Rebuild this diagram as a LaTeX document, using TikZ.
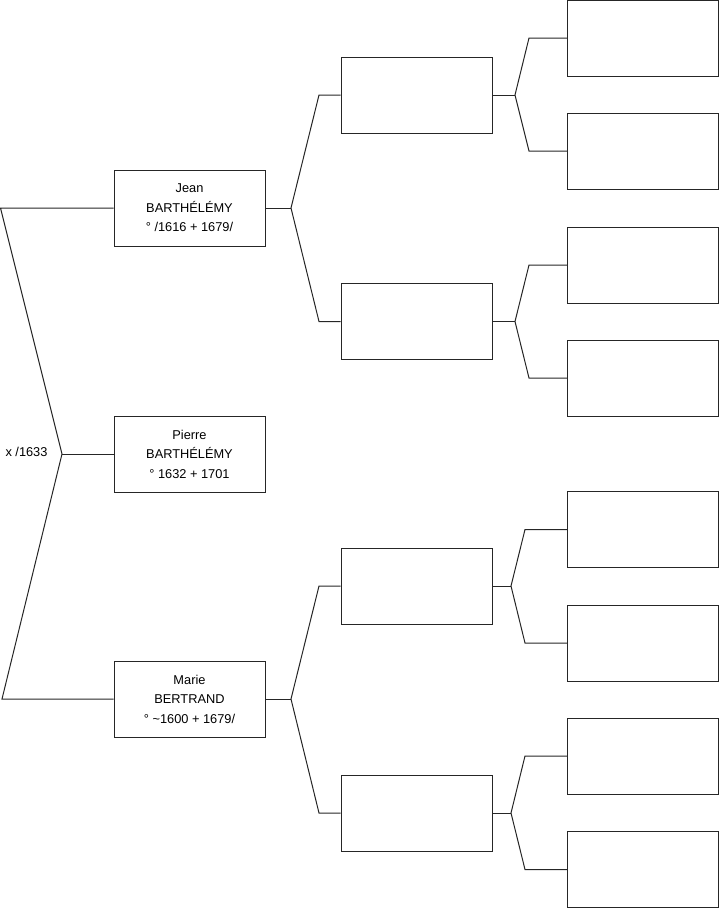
\documentclass[tikz,border=0pt]{standalone}
\usepackage{fontspec}
\setmainfont{Liberation Sans}
\begin{document}
\begin{tikzpicture}[x=1pt,y=-1pt,
  person/.style={draw=black!85, line width=1pt, rectangle, minimum width=151pt, minimum height=76pt,
    inner sep=0pt, align=center, font=\fontsize{12.8pt}{19.5pt}\selectfont},
  link/.style={draw=black!85, line width=1pt}]
\useasboundingbox (0,0) rectangle (719,908);
% generation 1
\node[person] (jean) at (189.5,208) {Jean\\BARTHÉLÉMY\\° /1616 + 1679/};
\node[person] (pierre) at (189.5,454) {Pierre\\BARTHÉLÉMY\\° 1632 + 1701};
\node[person] (marie) at (189.5,699) {Marie\\BERTRAND\\° \textasciitilde1600 + 1679/};
% generation 2
\node[person] (a) at (416.5,95) {};
\node[person] (b) at (416.5,321.5) {};
\node[person] (c) at (416.5,586) {};
\node[person] (d) at (416.5,813) {};
% generation 3
\node[person] (a1) at (643,38) {};
\node[person] (a2) at (643,151) {};
\node[person] (b1) at (643,265) {};
\node[person] (b2) at (643,378) {};
\node[person] (c1) at (643,529.5) {};
\node[person] (c2) at (643,643) {};
\node[person] (d1) at (643,756) {};
\node[person] (d2) at (643,869.5) {};
% marriage connector
\coordinate (lt) at (0.5,208);
\coordinate (lj) at (62,454);
\coordinate (lb) at (2,699);
\draw[link] (jean.west) -- (lt) -- (lj) -- (lb) -- (marie.west);
\draw[link] (lj) -- (pierre.west);
\node[font=\fontsize{12.8pt}{15pt}\selectfont, inner sep=0pt] (mar) at (26.5,452) {x /1633};
% jean parents
\coordinate (jj) at (291,208);
\draw[link] (jean.east) -- (jj);
\draw[link] (a.west) -- (319,95) -- (jj) -- (319,321.5) -- (b.west);
% marie parents
\coordinate (mj) at (291,699);
\draw[link] (marie.east) -- (mj);
\draw[link] (c.west) -- (319,586) -- (mj) -- (319,813) -- (d.west);
% gen 2 -> gen 3
\coordinate (aj) at (515,95);
\draw[link] (a.east) -- (aj);
\draw[link] (a1.west) -- (529,38) -- (aj) -- (529,151) -- (a2.west);
\coordinate (bj) at (515,321.5);
\draw[link] (b.east) -- (bj);
\draw[link] (b1.west) -- (529,265) -- (bj) -- (529,378) -- (b2.west);
\coordinate (cj) at (511,586);
\draw[link] (c.east) -- (cj);
\draw[link] (c1.west) -- (525,529.5) -- (cj) -- (525,643) -- (c2.west);
\coordinate (dj) at (511,813);
\draw[link] (d.east) -- (dj);
\draw[link] (d1.west) -- (525,756) -- (dj) -- (525,869.5) -- (d2.west);
\end{tikzpicture}
\end{document}
